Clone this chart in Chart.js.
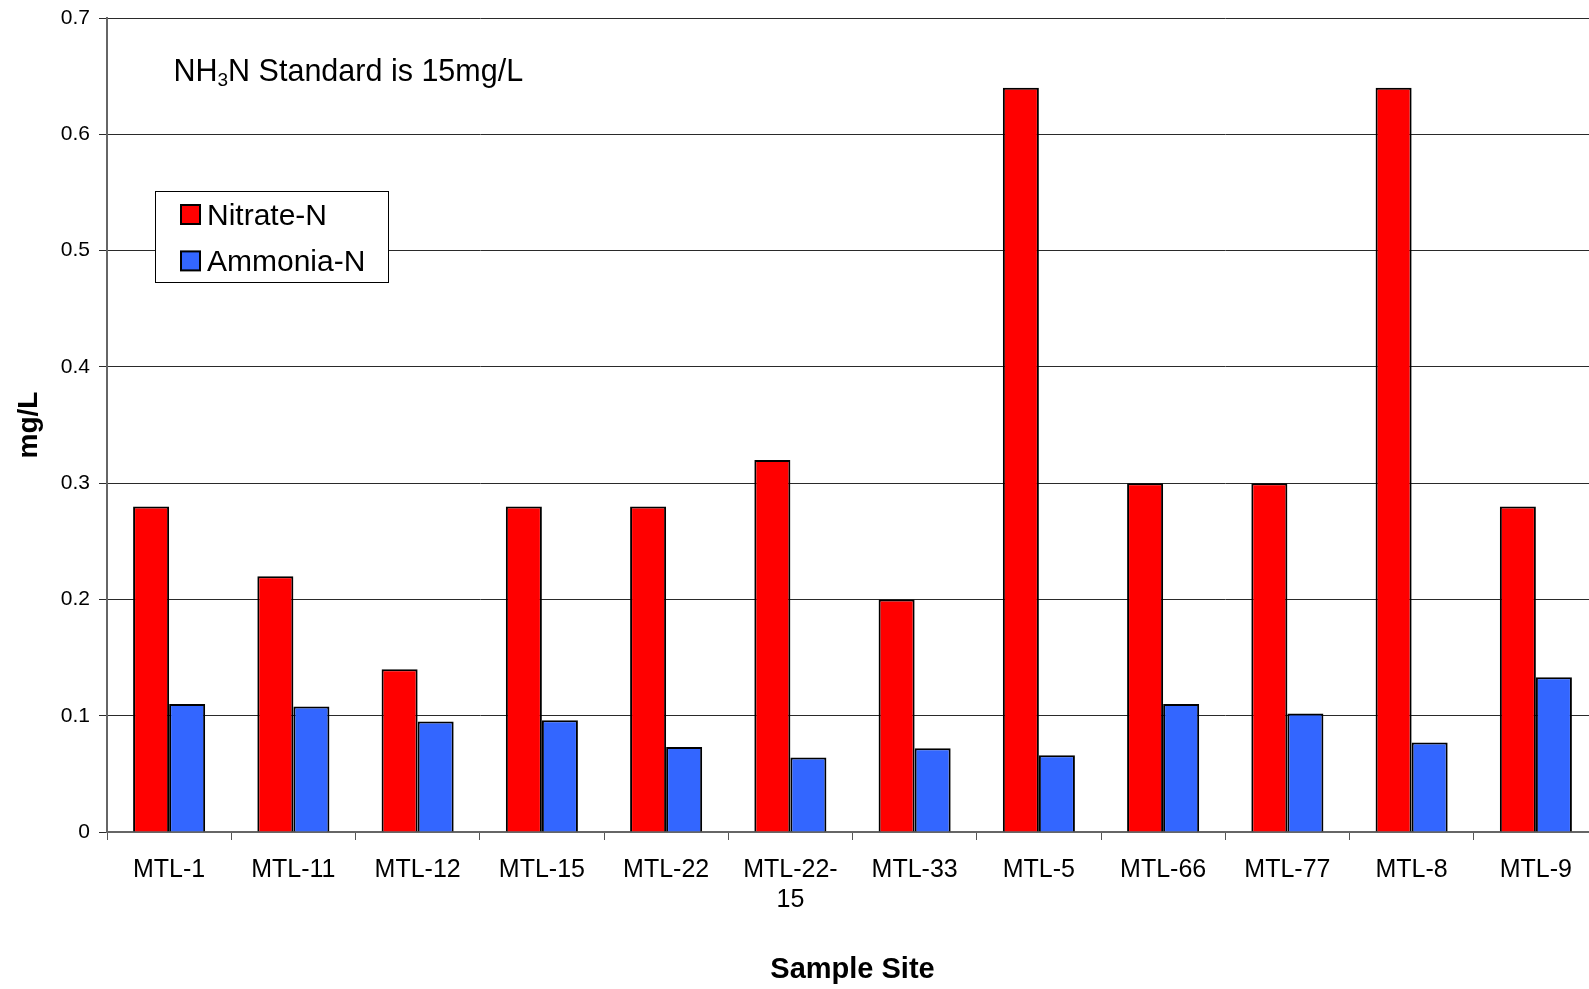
<!DOCTYPE html>
<html>
<head>
<meta charset="utf-8">
<script src="https://cdn.jsdelivr.net/npm/chart.js@4"></script>
<style>
  html, body { margin: 0; padding: 0; overflow: hidden; background: #fff; }
  #wrap { position: absolute; left: 0; top: 0; width: 1600px; height: 989px; }
</style>
</head>
<body>
<div id="wrap"><canvas id="c" width="1600" height="989"></canvas></div>
<script>
// Sample sites and measured concentrations (mg/L)
const sites = ['MTL-1', 'MTL-11', 'MTL-12', 'MTL-15', 'MTL-22', ['MTL-22-', '15'], 'MTL-33', 'MTL-5', 'MTL-66', 'MTL-77', 'MTL-8', 'MTL-9'];
const nitrateN = [0.28, 0.22, 0.14, 0.28, 0.28, 0.32, 0.20, 0.64, 0.30, 0.30, 0.64, 0.28];
const ammoniaN = [0.110, 0.108, 0.095, 0.096, 0.073, 0.064, 0.072, 0.066, 0.110, 0.102, 0.077, 0.133];
const yTickLabels = ['0', '0.1', '0.2', '0.3', '0.4', '0.5', '0.6', '0.7'];

const FONT = '"Liberation Sans", Arial, sans-serif';

// Boxed legend sitting inside the plot area
const insetLegend = {
  id: 'insetLegend',
  afterDraw(chart) {
    const { ctx, chartArea: a } = chart;
    const x0 = Math.round(a.left + 48), y0 = Math.round(a.top + 172.5), w = 233, h = 91;
    ctx.save();
    ctx.fillStyle = '#fff';
    ctx.fillRect(x0, y0, w, h);
    ctx.strokeStyle = '#000';
    ctx.lineWidth = 1;
    ctx.strokeRect(x0 + 0.5, y0 + 0.5, w, h);
    chart.data.datasets.forEach((ds, i) => {
      const sx = x0 + 26, sy = y0 + 14 + i * 46.4;
      ctx.fillStyle = ds.backgroundColor;
      ctx.fillRect(sx, sy, 19, 19);
      ctx.lineWidth = 2;
      ctx.strokeStyle = '#000';
      ctx.strokeRect(sx, sy, 19, 19);
      ctx.fillStyle = '#000';
      ctx.font = '30px ' + FONT;
      ctx.textAlign = 'left';
      ctx.textBaseline = 'alphabetic';
      ctx.fillText(ds.label, x0 + 52, sy + 19.5);
    });
    ctx.restore();
  }
};

// Note about the NH3N standard, with a subscript 3
const standardNote = {
  id: 'standardNote',
  afterDraw(chart) {
    const { ctx, chartArea: a } = chart;
    let x = a.left + 66.5;
    const base = a.top + 63;
    ctx.save();
    ctx.fillStyle = '#000';
    ctx.textAlign = 'left';
    ctx.textBaseline = 'alphabetic';
    ctx.font = '30.5px ' + FONT;
    ctx.fillText('NH', x, base);
    x += ctx.measureText('NH').width;
    ctx.font = '19px ' + FONT;
    ctx.fillText('3', x, base + 5);
    x += ctx.measureText('3').width;
    ctx.font = '30.5px ' + FONT;
    ctx.fillText('N Standard is 15mg/L', x, base);
    ctx.restore();
  }
};

new Chart(document.getElementById('c'), {
  type: 'bar',
  data: {
    labels: sites,
    datasets: [
      { label: 'Nitrate-N', data: nitrateN, backgroundColor: '#FF0000', borderColor: '#000', borderWidth: 2 },
      { label: 'Ammonia-N', data: ammoniaN, backgroundColor: '#3366FF', borderColor: '#000', borderWidth: 2 }
    ]
  },
  options: {
    responsive: false,
    devicePixelRatio: 1,
    animation: false,
    layout: { padding: { top: 18, right: 2, left: 0, bottom: 0 } },
    datasets: { bar: { categoryPercentage: 0.58, barPercentage: 1 } },
    plugins: { legend: { display: false }, tooltip: { enabled: false } },
    scales: {
      x: {
        grid: { offset: true, drawOnChartArea: false, drawTicks: true, tickLength: 8, color: '#555', lineWidth: 1 },
        border: { color: '#666', width: 2 },
        ticks: { color: '#000', font: { family: FONT, size: 25, lineHeight: 1.2 }, padding: 15, maxRotation: 0, autoSkip: false },
        title: { display: true, text: 'Sample Site', color: '#000', font: { family: FONT, size: 29, weight: 'bold' }, padding: { top: 0, bottom: 2 } },
        afterFit(s) { s.height = 157; }
      },
      y: {
        min: 0,
        max: 0.7,
        ticks: { stepSize: 0.1, color: '#000', font: { family: FONT, size: 21 }, padding: 9, callback: (v, i) => yTickLabels[i] },
        grid: { color: '#2a2a2a', lineWidth: 1, tickLength: 8 },
        border: { color: '#666', width: 2 },
        title: { display: true, text: 'mg/L', color: '#000', font: { family: FONT, size: 28, weight: 'bold' }, padding: { top: 12, bottom: 0 } },
        afterFit(s) { s.width = 107; s.paddingTop = 0; s.paddingBottom = 0; }
      }
    }
  },
  plugins: [insetLegend, standardNote]
});
</script>
</body>
</html>
